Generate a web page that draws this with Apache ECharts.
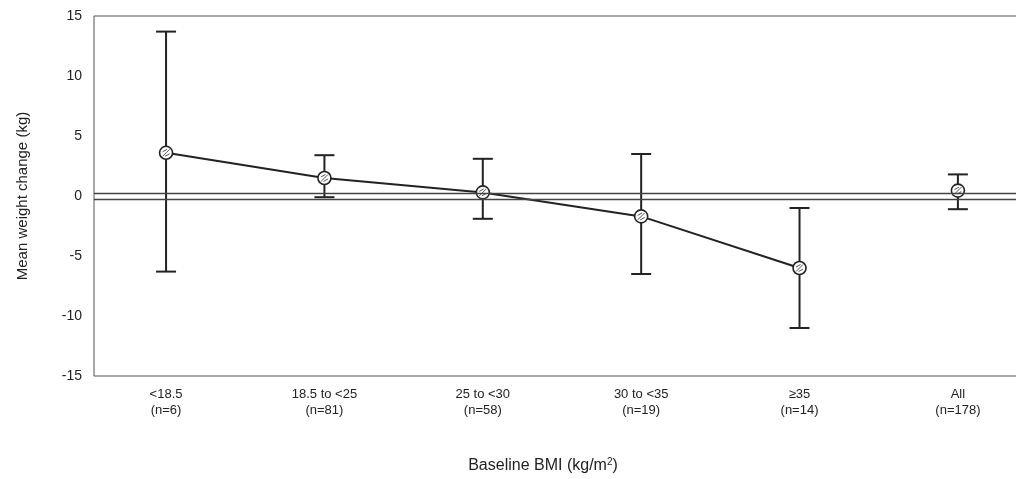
<!DOCTYPE html>
<html>
<head>
<meta charset="utf-8">
<script src="https://cdn.jsdelivr.net/npm/echarts@6/dist/echarts.min.js"></script>
<style>
  html, body { margin: 0; padding: 0; background: #fff; overflow: hidden; }
  #main { width: 1036px; height: 479px; }
</style>
</head>
<body>
<div id="main"></div>
<script>
// BMI groups and sample sizes
const bmiGroups = ['<18.5', '18.5 to <25', '25 to <30', '30 to <35', '≥35', 'All'];
const groupN = [6, 81, 58, 19, 14, 178];
// mean weight change (kg) and error bar ends
const meanChange = [3.6, 1.5, 0.3, -1.7, -6.0, 0.45];
const upperEnd = [13.7, 3.4, 3.1, 3.5, -1.0, 1.8];
const lowerEnd = [-6.3, -0.1, -1.9, -6.5, -11.0, -1.1];
const yTicks = [-15, -10, -5, 0, 5, 10, 15];

// chart is a bit wider than the window so the right border falls outside, as in the scan
const myChart = echarts.init(document.getElementById('main'));

const barData = bmiGroups.map((g, i) => [i, lowerEnd[i], upperEnd[i], meanChange[i]]);
// the trend line joins the BMI groups only, not "All"
const lineData = meanChange.slice(0, 5).map((v, i) => [i, v]);

const ink = '#222';

const option = {
  animation: false,
  textStyle: { fontFamily: 'Liberation Sans, Arial, sans-serif' },
  title: {
    text: 'Baseline BMI (kg/m{sup|2})',
    left: 538,
    top: 452,
    textAlign: 'center',
    textStyle: {
      fontSize: 16,
      fontWeight: 'normal',
      color: ink,
      rich: { sup: { fontSize: 10, verticalAlign: 'top', padding: [0, 0, 8, 0], color: ink } }
    }
  },
  grid: {
    left: 94, right: 10, top: 16, bottom: 103,
    show: true, borderColor: '#555', borderWidth: 1
  },
  xAxis: {
    type: 'value',
    min: -0.455,
    max: 5.43,
    axisLine: { show: false },
    axisTick: { show: false },
    splitLine: { show: false },
    axisLabel: {
      customValues: [0, 1, 2, 3, 4, 5],
      formatter: v => bmiGroups[v] + '\n(n=' + groupN[v] + ')',
      fontSize: 13,
      lineHeight: 16,
      color: ink,
      margin: 10
    }
  },
  yAxis: {
    type: 'value',
    min: -15,
    max: 15,
    interval: 5,
    name: 'Mean weight change (kg)',
    nameLocation: 'middle',
    nameGap: 64,
    nameTextStyle: { fontSize: 15, color: ink },
    axisLine: { show: false },
    axisTick: { show: false },
    splitLine: { show: false },
    axisLabel: {
      fontSize: 14,
      color: ink,
      margin: 12,
      formatter: v => (yTicks.indexOf(v) >= 0 ? String(v) : '')
    }
  },
  series: [
    {
      type: 'line',
      data: lineData,
      symbol: 'none',
      lineStyle: { color: ink, width: 2 },
      z: 2,
      markLine: {
        silent: true,
        symbol: 'none',
        label: { show: false },
        lineStyle: { color: '#444', width: 1.3, type: 'solid' },
        data: [{ yAxis: 0.25 }, { yAxis: -0.25 }]
      }
    },
    {
      type: 'custom',
      data: barData,
      z: 3,
      renderItem: (params, api) => {
        const x = api.value(0);
        const lo = api.coord([x, api.value(1)]);
        const hi = api.coord([x, api.value(2)]);
        const mid = api.coord([x, api.value(3)]);
        const cap = 10;
        const r = 6.5;
        const st = { stroke: ink, lineWidth: 2 };
        return {
          type: 'group',
          children: [
            { type: 'line', shape: { x1: hi[0], y1: hi[1], x2: lo[0], y2: lo[1] }, style: st },
            { type: 'line', shape: { x1: hi[0] - cap, y1: hi[1], x2: hi[0] + cap, y2: hi[1] }, style: st },
            { type: 'line', shape: { x1: lo[0] - cap, y1: lo[1], x2: lo[0] + cap, y2: lo[1] }, style: st },
            { type: 'circle', shape: { cx: mid[0], cy: mid[1], r: r }, style: { fill: '#fff', stroke: ink, lineWidth: 1.6 } },
            { type: 'line', shape: { x1: mid[0] - 3.5, y1: mid[1] + 3.5, x2: mid[0] + 3.5, y2: mid[1] - 3.5 }, style: { stroke: '#555', lineWidth: 1 } },
            { type: 'line', shape: { x1: mid[0] - 3.5, y1: mid[1] - 1, x2: mid[0] + 1, y2: mid[1] - 3.5 }, style: { stroke: '#555', lineWidth: 1 } },
            { type: 'line', shape: { x1: mid[0] - 1, y1: mid[1] + 3.5, x2: mid[0] + 3.5, y2: mid[1] + 1 }, style: { stroke: '#555', lineWidth: 1 } }
          ]
        };
      }
    }
  ]
};

myChart.setOption(option);
</script>
</body>
</html>
